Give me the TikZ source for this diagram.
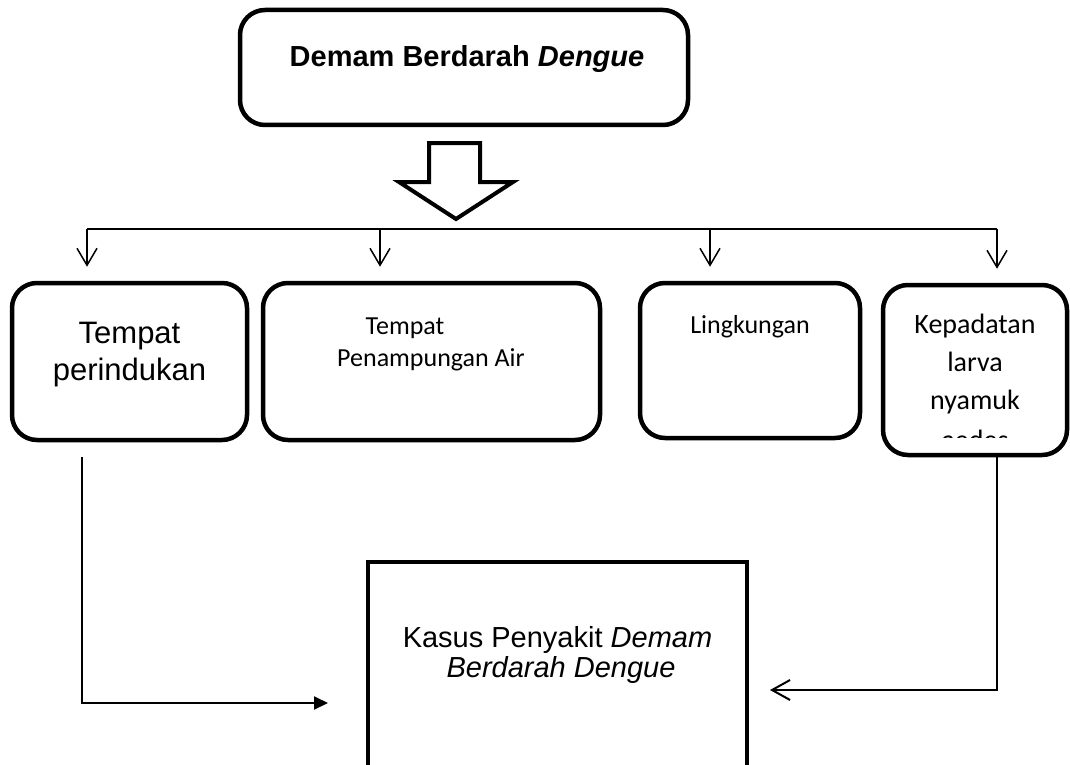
\documentclass[tikz,border=0pt]{standalone}
\usepackage{fontspec}
\setmainfont{Liberation Sans}
\newfontfamily\carlito{Carlito}
\usetikzlibrary{arrows.meta}
\begin{document}
\begin{tikzpicture}[x=1pt,y=-1pt,
  rbox/.style={draw, line width=4.5pt, rounded corners=25pt, inner sep=0pt},
  sbox/.style={draw, line width=4.5pt, inner sep=0pt},
  lbl/.style={anchor=base, inner sep=0pt},
  arial/.style={font=\fontsize{29}{34}\selectfont},
  arialb/.style={font=\fontsize{31}{36}\selectfont},
  calib/.style={font=\carlito\fontsize{26}{32}\selectfont},
  calibb/.style={font=\carlito\fontsize{28}{34}\selectfont},
  bar/.style={line width=1.5pt},
  dnarrow/.style={line width=1.5pt, -{Straight Barb[length=17pt,width=20pt,line width=1.5pt]}},
  openarrow/.style={line width=2pt, -{Straight Barb[length=18pt,width=20pt,line width=2pt]}},
  fillarrow/.style={line width=2pt, -{Triangle[length=14pt,width=13pt]}},
  bigarrow/.style={draw, line width=4pt, line join=miter, fill=white}
]
\clip (0,0) rectangle (1070,765);
\fill[white] (0,0) rectangle (1070,765);

% top box
\node[rbox, minimum width=448pt, minimum height=115pt] (top) at (464,67.5) {};
\node[lbl, font=\bfseries\fontsize{29}{34}\selectfont] (toptxt) at (467,67) {Demam Berdarah \textit{Dengue}};

% big hollow arrow
\draw[bigarrow] (429,143) -- (480,143) -- (480,182) -- (513,182) -- (456,219) -- (399,182) -- (429,182) -- cycle;

% distribution bar
\coordinate (b1) at (87,229);
\coordinate (b2) at (380,229);
\coordinate (b3) at (710,229);
\coordinate (b4) at (997,229);
\draw[bar] (b1) -- (b4);

% boxes
\node[rbox, minimum width=235pt, minimum height=157pt] (box1) at (129.5,361.5) {};
\node[rbox, minimum width=337pt, minimum height=157pt] (box2) at (431.5,361.5) {};
\node[rbox, minimum width=220pt, minimum height=155pt] (box3) at (750,360.5) {};
\node[rbox, minimum width=184pt, minimum height=170pt] (box4) at (975,370) {};

\draw[dnarrow, shorten >=14pt] (b1) -- (b1 |- box1.north);
\draw[dnarrow, shorten >=14pt] (b2) -- (b2 |- box2.north);
\draw[dnarrow, shorten >=14pt] (b3) -- (b3 |- box3.north);
\draw[dnarrow, shorten >=14pt] (b4) -- (b4 |- box4.north);

% box texts
\node[lbl, arialb] (t1a) at (129.5,343) {Tempat};
\node[lbl, arialb] (t1b) at (129.5,380) {perindukan};
\node[lbl, calib] (t2a) at (405,334) {Tempat};
\node[lbl, calib] (t2b) at (431,366) {Penampungan Air};
\node[lbl, calib] (t3) at (750,333) {Lingkungan};
\begin{scope}
  \clip (885,287) rectangle (1065,437);
  \node[lbl, calibb] (t4a) at (975,333) {Kepadatan};
  \node[lbl, calibb] (t4b) at (975,371) {larva};
  \node[lbl, calibb] (t4c) at (975,409) {nyamuk};
  \node[lbl, calibb] (t4d) at (975,449) {aedes};
\end{scope}

% bottom box
\node[sbox, minimum width=379pt, minimum height=238pt] (bot) at (557.5,681) {};
\node[lbl, arial] (k1) at (557.5,647) {Kasus Penyakit \textit{Demam}};
\node[lbl, arial] (k2) at (561,677) {\textit{Berdarah Dengue}};

% connectors
\coordinate (lx) at (82,0);
\coordinate (rx) at (997,0);
\coordinate (lend) at (328,703);
\coordinate (rend) at (770,690);
\draw[fillarrow, shorten <=15pt] (box1.south -| lx) |- (lend);
\draw[openarrow] (box4.south -| rx) |- (rend);
\end{tikzpicture}
\end{document}
